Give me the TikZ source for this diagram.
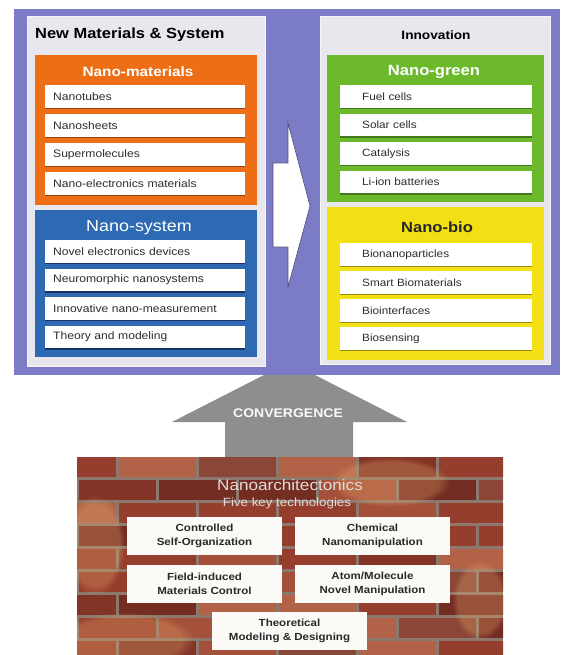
\documentclass[tikz,border=0pt]{standalone}
\usepackage{fontspec}
\usetikzlibrary{fadings}
\setmainfont[FakeStretch=1.12]{Liberation Sans}
\definecolor{framec}{RGB}{124,124,198}
\definecolor{panelc}{RGB}{231,231,237}
\definecolor{orngc}{RGB}{238,110,22}
\definecolor{orngd}{RGB}{150,70,20}
\definecolor{bluc}{RGB}{46,106,180}
\definecolor{blud}{RGB}{25,50,100}
\definecolor{grnc}{RGB}{108,186,44}
\definecolor{grnd}{RGB}{70,120,30}
\definecolor{yelc}{RGB}{242,224,20}
\definecolor{yeld}{RGB}{150,140,20}
\definecolor{arrowc}{RGB}{142,142,142}
\definecolor{rowtext}{RGB}{45,45,45}
\definecolor{mortar}{RGB}{140,120,108}
\definecolor{brickA}{RGB}{150,62,45}
\definecolor{brickB}{RGB}{130,52,38}
\definecolor{brickC}{RGB}{165,80,58}
\definecolor{brickD}{RGB}{115,45,35}
\definecolor{brickE}{RGB}{178,98,70}
\definecolor{brickF}{RGB}{140,70,55}
\definecolor{glowc}{RGB}{235,170,110}
\definecolor{walltext}{RGB}{225,220,215}
\definecolor{boxtext}{RGB}{40,40,40}
\begin{document}
\begin{tikzpicture}[x=1pt,y=-1pt,
  panel/.style={fill=panelc, draw=white!60!panelc, line width=1pt},
  lrow/.style={rectangle, fill=white, anchor=north west, minimum height=23pt,
    text width=200pt, align=left, inner xsep=0pt, inner ysep=0pt,
    font=\fontsize{10.8}{12}\selectfont, text=rowtext,
    execute at begin node=\hspace*{8pt}},
  rrow/.style={lrow, text width=192pt, font=\fontsize{10.5}{12}\selectfont,
    execute at begin node=\hspace*{14pt}},
  hdr/.style={font=\bfseries\fontsize{13.7}{15}\selectfont, text=white, inner sep=0pt},
  wbox/.style={rectangle, fill=white!96!brown, minimum width=155pt, minimum height=38pt,
    align=center, inner sep=0pt, font=\bfseries\fontsize{10.3}{14}\selectfont, text=boxtext},
  glow/.style={fill=glowc, fill opacity=0.3, path fading=circle with fuzzy edge 20 percent},
]
\useasboundingbox (0,0) rectangle (568,655);
\fill[white] (0,0) rectangle (568,655);

% convergence arrow (under the frame)
\fill[arrowc] (225,458) -- (225,422) -- (172,422) -- (289.5,362) -- (407,422) -- (353,422) -- (353,458) -- cycle;
\node[font=\bfseries\fontsize{12.5}{14}\selectfont, text=white!95!gray] (conv) at (288,413) {CONVERGENCE};

% purple frame
\fill[framec] (14,9) rectangle (560,375);

% left panel
\filldraw[panel] (27,17) rectangle (265,366);
\node[anchor=west, font=\bfseries\fontsize{14.7}{16}\selectfont, inner sep=0pt] (t1) at (35,35) {New Materials \& System};
\fill[orngc] (35,55) rectangle (257,205);
\node[hdr] (h1) at (138,72) {Nano-materials};
\foreach \t [count=\i] in {Nanotubes, Nanosheets, Supermolecules, Nano-electronics materials} {
  \node[lrow] (om\i) at (45,{85+29*(\i-1)}) {\t};
  \draw[orngd, line width=1.3pt] (om\i.south west) -- (om\i.south east);
}
\fill[bluc] (35,210) rectangle (257,357);
\node[hdr, font=\fontsize{16}{18}\selectfont] (h2) at (139,228) {Nano-system};
\foreach \t [count=\i] in {Novel electronics devices, Neuromorphic nanosystems, Innovative nano-measurement, Theory and modeling} {
  \node[lrow] (bs\i) at (45,{240+28.5*(\i-1)}) {\t};
  \draw[blud, line width=1.3pt] (bs\i.south west) -- (bs\i.south east);
}

% right panel
\filldraw[panel] (320,17) rectangle (550,364);
\node[font=\bfseries\fontsize{12.2}{14}\selectfont, inner sep=0pt] (t2) at (436,35) {Innovation};
\fill[grnc] (327,55) rectangle (544,202);
\node[hdr, font=\bfseries\fontsize{14.8}{16}\selectfont] (h3) at (434,72) {Nano-green};
\foreach \t [count=\i] in {Fuel cells, Solar cells, Catalysis, Li-ion batteries} {
  \node[rrow] (gr\i) at (340,{85+28.5*(\i-1)}) {\t};
  \draw[grnd, line width=1.3pt] (gr\i.south west) -- (gr\i.south east);
}
\fill[yelc] (327,207) rectangle (544,360);
\node[hdr, font=\bfseries\fontsize{14.8}{16}\selectfont, text=black!85] (h4) at (437,227) {Nano-bio};
\foreach \t [count=\i] in {Bionanoparticles, Smart Biomaterials, Biointerfaces, Biosensing} {
  \node[rrow] (yb\i) at (340,{243+28*(\i-1)}) {\t};
  \draw[yeld, line width=1.3pt] (yb\i.south west) -- (yb\i.south east);
}

% white arrow between panels
\filldraw[white, draw=framec!60!black, line width=0.6pt] (273,163) -- (288,163) -- (288,123) -- (310,206) -- (288,287) -- (288,247) -- (273,247) -- cycle;

% brick wall
\pgfmathsetseed{2718}
\pgfmathdeclarerandomlist{brickcolors}{{brickA}{brickB}{brickC}{brickD}{brickE}{brickF}{brickA}{brickB}}
\begin{scope}
\clip (77,457) rectangle (503,655);
\fill[mortar] (77,457) rectangle (503,655);
\foreach \r in {0,...,8} {
  \pgfmathsetmacro{\yy}{455+\r*23}
  \pgfmathsetmacro{\off}{mod(\r,2)*40}
  \foreach \c in {0,...,6} {
    \pgfmathsetmacro{\xx}{37+\off+\c*80}
    \pgfmathrandomitem{\bc}{brickcolors}
    \fill[\bc] (\xx+1.5,\yy+1.5) rectangle (\xx+78.5,\yy+21.5);
  }
}
\fill[glow] (390,482) ellipse (60 and 25);
\fill[glow] (125,640) ellipse (70 and 28);
\fill[glow] (95,545) ellipse (30 and 50);
\fill[glow] (480,600) ellipse (28 and 40);
\end{scope}
\node[text=walltext, font=\fontsize{15.3}{16}\selectfont, inner sep=0pt] (na) at (290,485) {Nanoarchitectonics};
\node[text=walltext, font=\fontsize{11.9}{13}\selectfont, inner sep=0pt] (fk) at (287,503) {Five key technologies};

\node[wbox] (b1) at (204.5,536) {Controlled\\Self-Organization};
\node[wbox] (b2) at (372.5,536) {Chemical\\Nanomanipulation};
\node[wbox] (b3) at (204.5,583.5) {Field-induced\\Materials Control};
\node[wbox] (b4) at (372.5,583.5) {Atom/Molecule\\Novel Manipulation};
\node[wbox] (b5) at (289.5,631) {Theoretical\\Modeling \& Designing};
\end{tikzpicture}
\end{document}
